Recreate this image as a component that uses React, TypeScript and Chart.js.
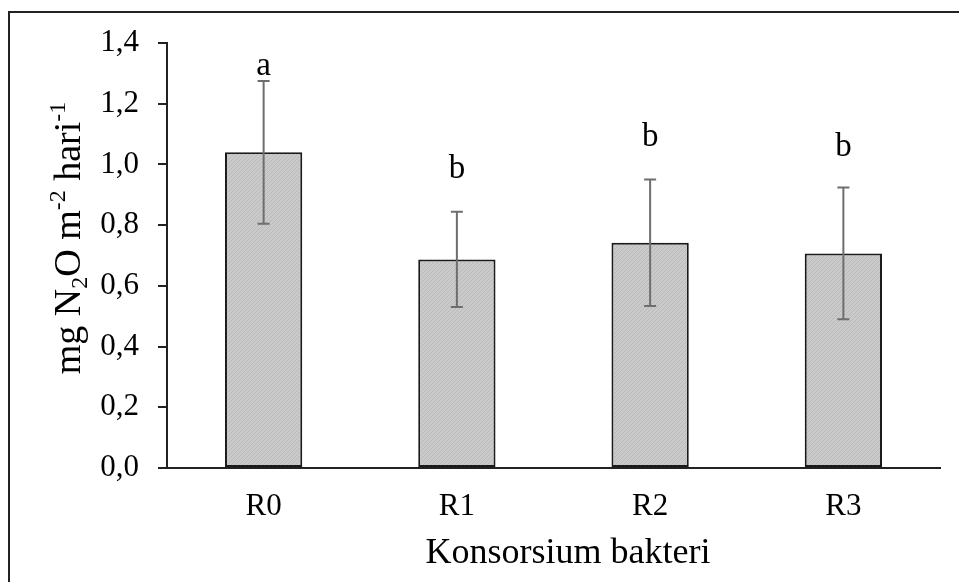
import React, { useEffect, useRef } from "react";
import { Chart, registerables } from "chart.js";

Chart.register(...registerables);

const categories = ["R0", "R1", "R2", "R3"];
const means = [1.04, 0.687, 0.742, 0.707];
const errors = [0.235, 0.157, 0.208, 0.217];
const letters = ["a", "b", "b", "b"];
const letterBaselines = [1.295, 0.955, 1.061, 1.028];
const yTicks = [0, 0.2, 0.4, 0.6, 0.8, 1.0, 1.2, 1.4];
const xTitle = "Konsorsium bakteri";
const yTitleParts: { text: string; kind: "n" | "sub" | "sup" }[] = [
  { text: "mg N", kind: "n" },
  { text: "2", kind: "sub" },
  { text: "O m", kind: "n" },
  { text: "-2", kind: "sup" },
  { text: " hari", kind: "n" },
  { text: "-1", kind: "sup" },
];

const FONT = "'Liberation Serif', 'Times New Roman', serif";
const FS = 31;
const TITLE_FS = 36;
const YTITLE_FS = 38;
const LETTER_FS = 33;

function makePattern(): CanvasPattern | string {
  const c = document.createElement("canvas");
  c.width = 4;
  c.height = 4;
  const g = c.getContext("2d");
  if (!g) return "#c4c4c4";
  g.fillStyle = "#cacaca";
  g.fillRect(0, 0, 4, 4);
  g.strokeStyle = "#bababa";
  g.lineWidth = 1;
  g.beginPath();
  g.moveTo(0, 4);
  g.lineTo(4, 0);
  g.moveTo(-1, 1);
  g.lineTo(1, -1);
  g.moveTo(3, 5);
  g.lineTo(5, 3);
  g.stroke();
  const p = g.createPattern(c, "repeat");
  return p || "#c4c4c4";
}

const overlayPlugin = {
  id: "overlay",
  beforeDraw(chart: any) {
    const ctx = chart.ctx;
    ctx.save();
    ctx.fillStyle = "#fff";
    ctx.fillRect(0, 0, chart.width, chart.height);
    ctx.strokeStyle = "#222";
    ctx.lineWidth = 2;
    ctx.strokeRect(9, 12, chart.width + 20, chart.height + 20);
    ctx.restore();
  },
  afterDatasetsDraw(chart: any) {
    const ctx = chart.ctx;
    const ys = chart.scales.y;
    const meta = chart.getDatasetMeta(0);
    ctx.save();
    ctx.strokeStyle = "#6e6e6e";
    ctx.lineWidth = 2;
    meta.data.forEach((bar: any, i: number) => {
      const x = bar.x;
      const top = ys.getPixelForValue(means[i] + errors[i]);
      const bot = ys.getPixelForValue(means[i] - errors[i]);
      ctx.beginPath();
      ctx.moveTo(x, top);
      ctx.lineTo(x, bot);
      ctx.moveTo(x - 6, top);
      ctx.lineTo(x + 6, top);
      ctx.moveTo(x - 6, bot);
      ctx.lineTo(x + 6, bot);
      ctx.stroke();
    });
    ctx.fillStyle = "#000";
    ctx.font = `${LETTER_FS}px ${FONT}`;
    ctx.textAlign = "center";
    ctx.textBaseline = "alphabetic";
    meta.data.forEach((bar: any, i: number) => {
      ctx.fillText(letters[i], bar.x, ys.getPixelForValue(letterBaselines[i]));
    });
    ctx.restore();
  },
  afterDraw(chart: any) {
    const ctx = chart.ctx;
    ctx.save();
    ctx.fillStyle = "#000";
    // x-axis title
    ctx.font = `${TITLE_FS}px ${FONT}`;
    ctx.textAlign = "center";
    ctx.textBaseline = "alphabetic";
    ctx.fillText(xTitle, 568, 563);
    // y-axis title with sub/superscripts
    ctx.translate(80, 238);
    ctx.rotate(-Math.PI / 2);
    ctx.textAlign = "left";
    const small = Math.round(YTITLE_FS * 0.62);
    let total = 0;
    const widths = yTitleParts.map((p) => {
      ctx.font = `${p.kind === "n" ? YTITLE_FS : small}px ${FONT}`;
      const w = ctx.measureText(p.text).width;
      total += w;
      return w;
    });
    let x = -total / 2;
    yTitleParts.forEach((p, i) => {
      ctx.font = `${p.kind === "n" ? YTITLE_FS : small}px ${FONT}`;
      const dy = p.kind === "sub" ? 7 : p.kind === "sup" ? -15 : 0;
      ctx.fillText(p.text, x, dy);
      x += widths[i];
    });
    ctx.restore();
  },
};

export default function App() {
  const ref = useRef<HTMLCanvasElement | null>(null);
  useEffect(() => {
    if (!ref.current) return;
    const chart = new Chart(ref.current, {
      type: "bar",
      data: {
        labels: categories,
        datasets: [
          {
            data: means,
            backgroundColor: makePattern() as any,
            borderColor: "#1a1a1a",
            borderWidth: 2,
            borderSkipped: false,
            barPercentage: 0.4,
            categoryPercentage: 1,
          },
        ],
      },
      options: {
        responsive: false,
        animation: false,
        devicePixelRatio: 1,
        layout: { padding: { left: 0, top: 43, right: 19, bottom: 0 } },
        plugins: { legend: { display: false }, tooltip: { enabled: false } },
        scales: {
          x: {
            grid: { display: false, drawTicks: false },
            border: { display: true, color: "#222", width: 2 },
            ticks: {
              color: "#000",
              font: { family: FONT, size: FS },
              padding: 20,
            },
            afterFit: (s: any) => {
              s.height = 114;
            },
          },
          y: {
            min: 0,
            max: 1.4,
            afterBuildTicks: (s: any) => {
              s.ticks = yTicks.map((v) => ({ value: v }));
            },
            grid: {
              display: true,
              drawOnChartArea: false,
              drawTicks: true,
              tickLength: 9,
              color: "#222",
              lineWidth: 2,
            },
            border: { display: true, color: "#222", width: 2 },
            ticks: {
              color: "#000",
              font: { family: FONT, size: FS },
              padding: 19,
              callback: (v: any) => Number(v).toFixed(1).replace(".", ","),
            },
            afterFit: (s: any) => {
              s.width = 167;
            },
          },
        },
      },
      plugins: [overlayPlugin],
    });
    return () => chart.destroy();
  }, []);
  return (
    <div style={{ position: "absolute", left: 0, top: 0, width: 959, height: 582 }}>
      <canvas ref={ref} width={959} height={582} />
    </div>
  );
}
